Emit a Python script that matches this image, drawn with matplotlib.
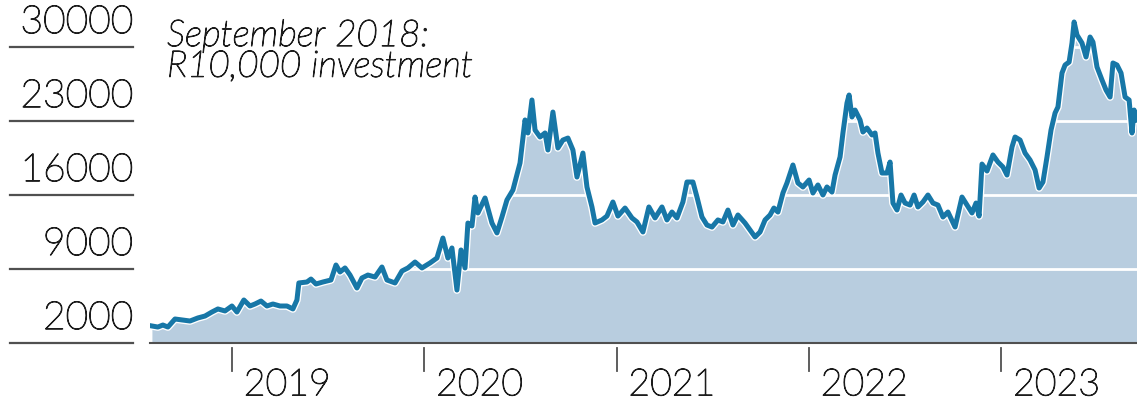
import numpy as np
import matplotlib
matplotlib.use("Agg")
import matplotlib.pyplot as plt
import matplotlib.patheffects as pe
from matplotlib.transforms import blended_transform_factory

# ---- data ----
t = [2018.584, 2018.615, 2018.641, 2018.667, 2018.704, 2018.740, 2018.782, 2018.823, 2018.860, 2018.896,
     2018.927, 2018.964, 2019.000, 2019.026, 2019.062, 2019.094, 2019.120, 2019.151, 2019.182, 2019.213,
     2019.250, 2019.286, 2019.317, 2019.338, 2019.348, 2019.390, 2019.411, 2019.437, 2019.473, 2019.515,
     2019.541, 2019.562, 2019.588, 2019.614, 2019.650, 2019.676, 2019.707, 2019.744, 2019.780, 2019.806,
     2019.848, 2019.884, 2019.915, 2019.952, 2019.988, 2020.030, 2020.066, 2020.097, 2020.123, 2020.144,
     2020.170, 2020.191, 2020.212, 2020.227, 2020.248, 2020.264, 2020.279, 2020.316, 2020.352, 2020.378,
     2020.404, 2020.430, 2020.461, 2020.498, 2020.524, 2020.539, 2020.560, 2020.576, 2020.602, 2020.628,
     2020.643, 2020.669, 2020.695, 2020.721, 2020.747, 2020.773, 2020.794, 2020.825, 2020.846, 2020.872,
     2020.888, 2020.924, 2020.950, 2020.981, 2021.007, 2021.044, 2021.080, 2021.106, 2021.137, 2021.168,
     2021.200, 2021.236, 2021.262, 2021.288, 2021.314, 2021.345, 2021.366, 2021.397, 2021.418, 2021.444,
     2021.470, 2021.496, 2021.527, 2021.553, 2021.579, 2021.605, 2021.631, 2021.668, 2021.694, 2021.720,
     2021.746, 2021.772, 2021.798, 2021.818, 2021.839, 2021.865, 2021.886, 2021.917, 2021.943, 2021.969,
     2022.001, 2022.021, 2022.047, 2022.073, 2022.094, 2022.120, 2022.136, 2022.162, 2022.177, 2022.198,
     2022.209, 2022.224, 2022.240, 2022.266, 2022.281, 2022.302, 2022.328, 2022.344, 2022.359, 2022.380,
     2022.406, 2022.422, 2022.437, 2022.458, 2022.479, 2022.500, 2022.526, 2022.547, 2022.567, 2022.593,
     2022.619, 2022.645, 2022.671, 2022.697, 2022.723, 2022.760, 2022.796, 2022.822, 2022.848, 2022.869,
     2022.885, 2022.900, 2022.926, 2022.957, 2022.983, 2023.009, 2023.030, 2023.056, 2023.072, 2023.098,
     2023.124, 2023.150, 2023.176, 2023.197, 2023.217, 2023.238, 2023.259, 2023.280, 2023.295, 2023.316,
     2023.332, 2023.353, 2023.368, 2023.379, 2023.394, 2023.420, 2023.441, 2023.462, 2023.477, 2023.498,
     2023.524, 2023.545, 2023.566, 2023.581, 2023.602, 2023.623, 2023.644, 2023.665, 2023.680, 2023.691,
     2023.706]
value = [3610, 3510, 3700, 3510, 4270, 4180, 4080, 4370, 4550, 4930,
         5220, 5030, 5500, 4930, 6070, 5500, 5690, 5970, 5500, 5690,
         5500, 5500, 5220, 6070, 7680, 7770, 8050, 7580, 7770, 7960,
         9380, 8720, 9100, 8430, 7200, 8150, 8430, 8240, 9190, 7960,
         7680, 8810, 9100, 9660, 9100, 9570, 10040, 11930, 10040, 10990,
         7010, 10800, 9100, 13350, 13070, 15810, 14300, 15720, 13350, 12410,
         13920, 15530, 16470, 19030, 23100, 21870, 24990, 22150, 21490, 21870,
         20260, 23850, 20450, 21200, 21390, 20260, 17700, 19970, 16760, 14870,
         13350, 13640, 14010, 15340, 14010, 14770, 13830, 13450, 12500, 14870,
         13830, 14870, 13640, 14390, 13830, 15340, 17230, 17230, 15810, 13920,
         13160, 12970, 13640, 13450, 14580, 13160, 14110, 13350, 12690, 12030,
         12500, 13640, 14110, 14770, 14390, 16190, 17140, 18840, 17140, 16760,
         17420, 16190, 16950, 16000, 16760, 16280, 17890, 19600, 21870, 24700,
         25460, 23380, 24040, 23100, 21960, 22340, 21680, 21870, 19970, 18080,
         18080, 19120, 15240, 14580, 16000, 15240, 15050, 16000, 14870, 15340,
         16000, 15240, 15050, 13920, 14390, 12970, 15810, 15050, 14300, 15240,
         14010, 18930, 18270, 19790, 19120, 18650, 17890, 20540, 21490, 21200,
         19970, 19310, 18370, 16660, 17230, 19600, 22150, 23760, 24330, 27540,
         28300, 28580, 30380, 32370, 31140, 30380, 29060, 30950, 30470, 28110,
         26880, 25930, 25270, 28490, 28300, 27540, 25270, 24990, 21870, 24040,
         23100]

years = [2019, 2020, 2021, 2022, 2023]
yticks = [2000, 9000, 16000, 23000, 30000]
note = "September 2018:\nR10,000 investment"

LINE = "#1777a7"
FILL = "#b8cddf"
INK = "#1c1c1c"
AXC = "#505050"
FONT = "Lato"
WT = "light"
# light face thickened slightly to get the reference's thin-but-dark look
thick = [pe.withStroke(linewidth=0.8, foreground=INK)]

fig = plt.figure(figsize=(11.37, 4.01), dpi=100)
ax = fig.add_axes([150/1137, 58/401, 987/1137, 343/401])
ax.set_xlim(2018.574, 2023.706)
ax.set_ylim(2000, 34450)

ax.fill_between(t, 2000, value, color=FILL, lw=0, zorder=1)
for yv in yticks[1:]:
    ax.axhline(yv, color="white", lw=2, zorder=2)
ax.plot(t, value, color=LINE, lw=3.6, solid_joinstyle="round", zorder=3,
        path_effects=[pe.Stroke(linewidth=5.5, foreground="white"), pe.Normal()])

for s in ["top", "right", "left"]:
    ax.spines[s].set_visible(False)
ax.spines["bottom"].set_color(AXC)
ax.spines["bottom"].set_linewidth(1.5)
ax.set_xticks([])
ax.set_yticks([])

# y labels sitting on short rules left of the plot
ytr = blended_transform_factory(ax.transAxes, ax.transData)
for yv in yticks:
    ax.plot([-0.1418, -0.0172], [yv, yv], color=AXC, lw=1.6, transform=ytr, clip_on=False)
    ax.annotate(str(yv), xy=(-0.0172, yv), xycoords=ytr, xytext=(0, 5), textcoords="offset points",
                ha="right", va="bottom", fontsize=28, color=INK, family=FONT, fontweight=WT,
                path_effects=thick)

# year ticks, label to the right of each tick
xtr = ax.get_xaxis_transform()
for yr in years:
    ax.plot([yr, yr], [-5/343, -28/343], color=AXC, lw=1.3, transform=xtr, clip_on=False)
    ax.annotate(str(yr), xy=(yr, 0), xycoords=xtr, xytext=(8.5, -30.5), textcoords="offset points",
                ha="left", va="center", fontsize=27, color=INK, family=FONT, fontweight=WT,
                path_effects=thick)

ax.text(17/987, 1 - 19/343, note, transform=ax.transAxes, ha="left", va="top",
        fontsize=26.5, style="italic", color=INK, family=FONT, fontweight=WT, linespacing=0.88,
        path_effects=thick)

fig.savefig("out.png", dpi=100)
